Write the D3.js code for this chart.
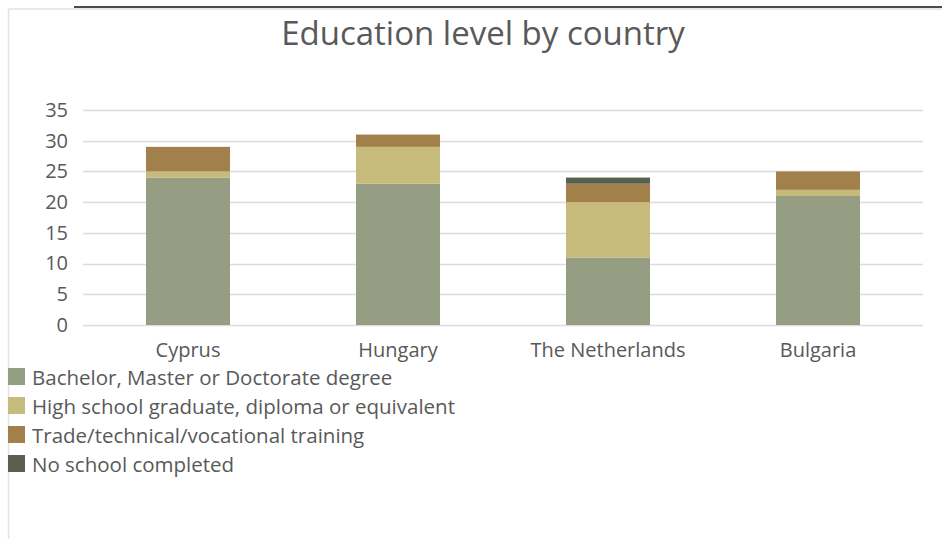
<!DOCTYPE html>
<html>
<head>
<meta charset="utf-8">
<script src="https://cdn.jsdelivr.net/npm/d3@7"></script>
<style>
  html, body { margin: 0; padding: 0; background: #ffffff; }
  svg { display: block; }
  text { font-family: "Open Sans", "Noto Sans", sans-serif; fill: #595959; }
</style>
</head>
<body>
<svg id="chart" width="942" height="539"></svg>
<script>
// Countries along the x axis
const countries = ["Cyprus", "Hungary", "The Netherlands", "Bulgaria"];

// Education levels (stack order, bottom to top)
const levels = [
  "Bachelor, Master or Doctorate degree",
  "High school graduate, diploma or equivalent",
  "Trade/technical/vocational training",
  "No school completed"
];

// Counts per level, one value per country
const bachelorValues   = [24, 23, 11, 21];
const highSchoolValues = [1, 6, 9, 1];
const tradeValues      = [4, 2, 3, 3];
const noSchoolValues   = [0, 0, 1, 0];

// Y axis ticks
const yTicks = [0, 5, 10, 15, 20, 25, 30, 35];

const levelColors = ["#959e82", "#c6bb7a", "#a2804c", "#5a6050"];

const seriesValues = [bachelorValues, highSchoolValues, tradeValues, noSchoolValues];
const rows = countries.map((c, i) => {
  const r = { country: c };
  levels.forEach((l, j) => { r[l] = seriesValues[j][i]; });
  return r;
});

const svg = d3.select("#chart");

// Frame: dark rule on top, light border on the chart area
svg.append("line").attr("x1", 74).attr("x2", 942).attr("y1", 7).attr("y2", 7)
  .attr("stroke", "#111").attr("stroke-width", 1.6);
svg.append("line").attr("x1", 8.5).attr("x2", 942).attr("y1", 9).attr("y2", 9)
  .attr("stroke", "#e2e2e2").attr("stroke-width", 1.5);
svg.append("line").attr("x1", 8.5).attr("x2", 8.5).attr("y1", 9).attr("y2", 539)
  .attr("stroke", "#e2e2e2").attr("stroke-width", 1.5);

// Title
svg.append("text")
  .attr("x", 483).attr("y", 45)
  .attr("text-anchor", "middle")
  .style("font-size", "33px")
  .text("Education level by country");

const plot = { left: 83, right: 923, top: 110, bottom: 325 };

const x = d3.scaleBand()
  .domain(countries)
  .range([plot.left, plot.right])
  .paddingInner(0.6)
  .paddingOuter(0.3);

const y = d3.scaleLinear()
  .domain([0, 35])
  .range([plot.bottom, plot.top]);

// Gridlines
svg.append("g")
  .selectAll("line")
  .data(yTicks)
  .join("line")
  .attr("x1", plot.left).attr("x2", plot.right)
  .attr("y1", d => Math.round(y(d)) + 0.5).attr("y2", d => Math.round(y(d)) + 0.5)
  .attr("stroke", "#dcdcdc").attr("stroke-width", 1.3);

// Y axis labels
const yAxis = d3.axisLeft(y).tickValues(yTicks).tickSize(0).tickPadding(0);
const yg = svg.append("g").attr("transform", `translate(${68},0)`).call(yAxis);
yg.select(".domain").remove();
yg.selectAll("text").style("font-size", "20px").attr("fill", "#595959");

// Stacked bars
const stack = d3.stack().keys(levels);
const stacked = stack(rows);

svg.append("g")
  .selectAll("g")
  .data(stacked)
  .join("g")
  .attr("fill", (d, i) => levelColors[i])
  .selectAll("rect")
  .data(d => d)
  .join("rect")
  .attr("x", d => x(d.data.country))
  .attr("width", x.bandwidth())
  .attr("y", d => y(d[1]))
  .attr("height", d => y(d[0]) - y(d[1]));

// X axis labels
const xAxis = d3.axisBottom(x).tickSize(0).tickPadding(0);
const xg = svg.append("g").attr("transform", `translate(0,${plot.bottom + 18})`).call(xAxis);
xg.select(".domain").remove();
xg.selectAll("text").style("font-size", "20px").attr("fill", "#595959");

// Legend
const legend = svg.append("g");
const item = legend.selectAll("g")
  .data(levels)
  .join("g")
  .attr("transform", (d, i) => `translate(8,${368 + i * 29})`);
item.append("rect")
  .attr("width", 17).attr("height", 17)
  .attr("fill", (d, i) => levelColors[i]);
item.append("text")
  .attr("x", 24).attr("y", 16.5)
  .style("font-size", "20.5px")
  .text(d => d);
</script>
</body>
</html>
